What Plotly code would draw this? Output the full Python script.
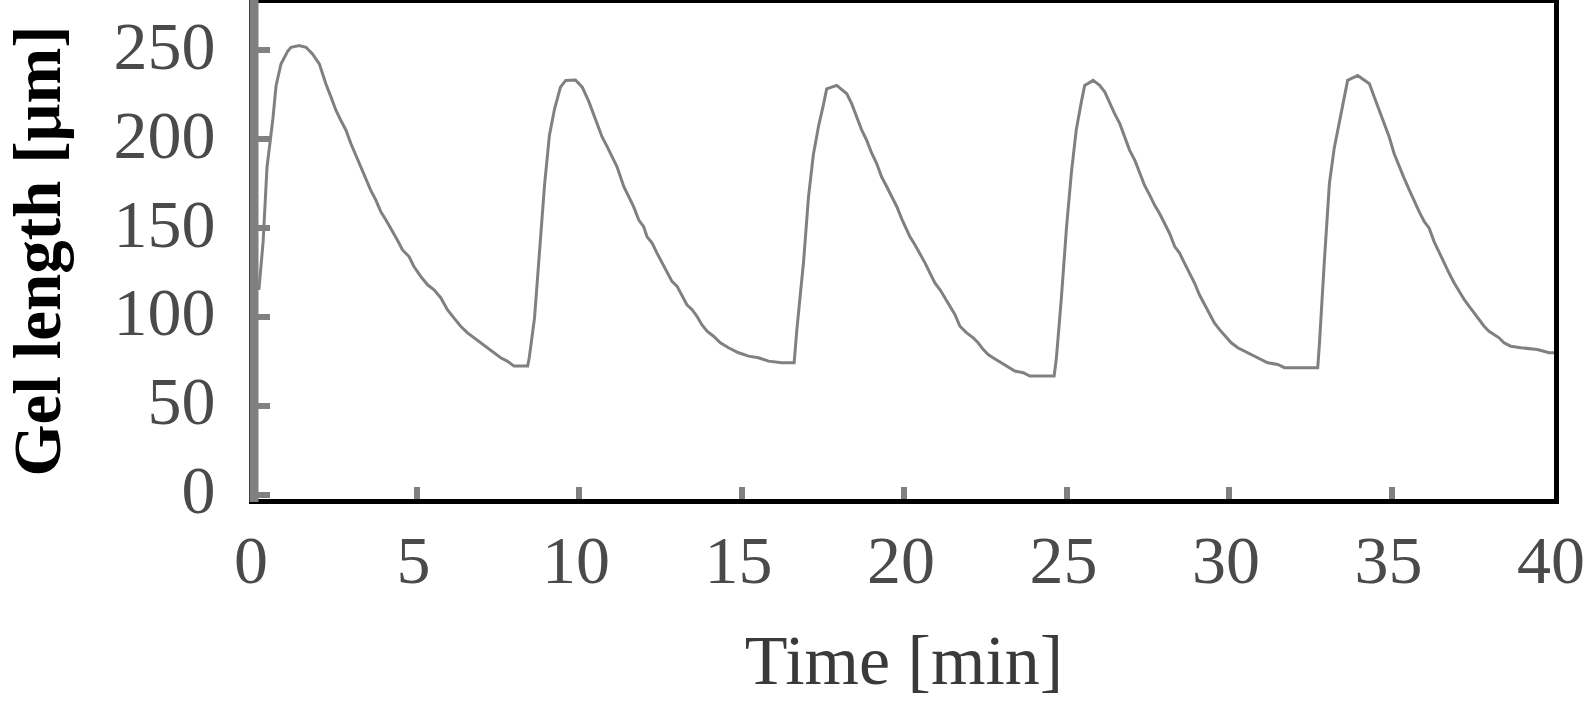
import plotly.graph_objects as go

# Time [min]
time_min = [
    0.15, 0.28, 0.40, 0.58, 0.68, 0.83, 1.03, 1.14, 1.39, 1.60, 1.80, 2.01, 2.11, 2.21, 2.37, 2.52,
    2.67, 2.83, 2.98, 3.13, 3.29, 3.44, 3.59, 3.75, 3.90, 4.06, 4.21, 4.41, 4.57, 4.77, 4.92, 5.13,
    5.34, 5.54, 5.75, 5.95, 6.15, 6.36, 6.57, 6.77, 6.97, 7.18, 7.38, 7.59, 7.79, 8.00, 8.42,
    8.47, 8.63, 8.79, 8.94, 9.09, 9.25, 9.43, 9.59, 9.89,
    10.10, 10.30, 10.50, 10.71, 10.87, 11.02, 11.17, 11.38, 11.53, 11.68, 11.84, 11.99, 12.09, 12.25,
    12.40, 12.56, 12.71, 12.86, 13.02, 13.17, 13.32, 13.48, 13.63, 13.78, 13.94, 14.14, 14.35, 14.60,
    14.91, 15.22, 15.52, 15.83, 16.24, 16.62,
    16.70, 16.91, 17.06, 17.21, 17.37, 17.52, 17.62, 17.93,
    18.24, 18.39, 18.55, 18.70, 18.85, 19.01, 19.16, 19.31, 19.47, 19.62, 19.78, 19.93, 20.03, 20.18,
    20.34, 20.49, 20.65, 20.80, 20.95, 21.11, 21.26, 21.41, 21.57, 21.72, 21.93, 22.13, 22.28, 22.44,
    22.59, 22.74, 22.90, 23.15, 23.41, 23.67, 23.87, 24.62,
    24.69, 24.84, 25.00, 25.15, 25.30, 25.46, 25.56, 25.82,
    26.02, 26.18, 26.33, 26.48, 26.64, 26.79, 26.94, 27.10, 27.25, 27.40, 27.56, 27.71, 27.86, 28.02,
    28.17, 28.33, 28.48, 28.63, 28.79, 28.94, 29.09, 29.25, 29.40, 29.55, 29.71, 29.86, 30.07, 30.27,
    30.58, 30.89, 31.19, 31.50, 31.71, 32.73,
    32.78, 32.93, 33.09, 33.24, 33.40, 33.55, 33.65, 33.96,
    34.32, 34.47, 34.62, 34.78, 34.93, 35.08, 35.24, 35.39, 35.55, 35.70, 35.85, 36.01, 36.16, 36.31,
    36.47, 36.62, 36.77, 36.93, 37.08, 37.24, 37.39, 37.54, 37.70, 37.85, 38.00, 38.16, 38.31, 38.46,
    38.67, 38.98, 39.49, 39.85, 40.00,
]

# Gel length [um]
gel_length = [
    115.0, 142.0, 184.0, 211.0, 230.0, 242.0, 249.0, 251.4, 252.4, 251.4, 247.7, 242.1, 236.5, 230.9, 223.4, 216.0,
    210.4, 204.8, 197.3, 190.8, 184.2, 176.8, 171.1, 165.5, 159.0, 154.3, 149.7, 143.1, 137.5, 133.8, 128.2, 122.6,
    117.9, 115.1, 110.5, 103.9, 99.3, 94.6, 90.9, 88.1, 85.3, 82.5, 79.7, 76.9, 75.0, 72.2, 72.2,
    77.0, 99.0, 136.0, 174.0, 202.0, 217.0, 229.0, 232.8, 233.0,
    229.0, 221.0, 211.0, 201.0, 195.4, 189.8, 184.2, 173.0, 167.4, 161.8, 154.3, 150.6, 145.0, 141.3,
    135.7, 130.1, 124.5, 119.8, 117.0, 111.4, 106.7, 103.9, 100.2, 95.5, 91.8, 89.0, 85.3, 82.5,
    79.7, 77.8, 76.9, 75.0, 74.1, 74.1,
    92.0, 131.0, 167.0, 191.0, 207.0, 219.0, 228.0, 230.0,
    225.3, 219.7, 212.2, 204.8, 199.2, 191.7, 186.1, 178.6, 173.0, 167.4, 161.8, 155.0, 150.6, 145.0,
    140.3, 135.7, 130.1, 124.5, 118.9, 115.1, 110.5, 105.8, 101.1, 94.6, 90.9, 88.1, 85.3, 81.5,
    78.7, 76.9, 75.0, 72.2, 69.4, 68.5, 66.6, 66.6,
    77.0, 110.0, 150.0, 181.0, 205.0, 221.0, 230.0, 232.8,
    230.0, 226.2, 219.7, 214.1, 208.5, 201.0, 193.6, 188.0, 181.4, 173.9, 168.3, 162.7, 158.1, 152.5,
    146.9, 139.4, 135.7, 130.1, 124.5, 118.9, 112.3, 106.7, 102.1, 96.5, 92.7, 89.5, 85.3, 82.5,
    79.7, 76.9, 74.1, 73.1, 71.3, 71.3,
    84.0, 130.0, 175.0, 195.0, 210.0, 222.0, 232.8, 235.6,
    230.9, 223.4, 216.0, 208.5, 201.0, 191.7, 184.2, 177.7, 171.1, 164.6, 159.0, 153.4, 149.7, 142.2,
    135.7, 130.1, 124.5, 118.9, 114.2, 109.5, 105.8, 102.1, 98.3, 94.6, 91.8, 89.9, 88.1, 85.3,
    83.4, 82.5, 81.5, 79.7, 79.7,
]

x_ticks = [0, 5, 10, 15, 20, 25, 30, 35, 40]
x_tick_labels = ["0", "5", "10", "15", "20", "25", "30", "35", "40"]
y_ticks = [0, 50, 100, 150, 200, 250]
y_tick_labels = ["0", "50", "100", "150", "200", "250"]

fig = go.Figure()
fig.add_trace(go.Scatter(
    x=time_min, y=gel_length, mode="lines",
    line=dict(color="#808080", width=3),
    showlegend=False, hoverinfo="x+y",
))

fig.update_layout(
    width=1586, height=707,
    margin=dict(l=254, r=32, t=2.5, b=207.5, autoexpand=False),
    paper_bgcolor="white", plot_bgcolor="white",
    xaxis=dict(
        range=[0, 40], tickvals=x_ticks, ticktext=x_tick_labels,
        showgrid=False, zeroline=False, automargin=False,
        showline=True, linecolor="black", linewidth=5, mirror=True,
        ticks="inside", ticklen=12, tickwidth=6, tickcolor="#808080",
        tickfont=dict(family="Liberation Serif", size=68, color="#4a4a4a"),
        ticklabelstandoff=-3, ticklabelshift=-3, ticklabeloverflow="allow",
        title=dict(text="Time [min]", font=dict(family="Liberation Serif", size=70, color="#3a3a3a"), standoff=40),
    ),
    yaxis=dict(
        range=[-2.5, 276.3], tickvals=y_ticks, ticktext=y_tick_labels,
        showgrid=False, zeroline=False, automargin=False,
        showline=True, linecolor="black", linewidth=5, mirror=True,
        ticks="inside", ticklen=16, tickwidth=6, tickcolor="#808080",
        tickfont=dict(family="Liberation Serif", size=68, color="#4a4a4a"),
        ticklabelstandoff=20, ticklabelshift=-5, ticklabeloverflow="allow",
        title=dict(text="<b>Gel length [μm]</b>", font=dict(family="Liberation Serif", size=67, color="black"), standoff=67),
    ),
    shapes=[dict(type="line", xref="paper", yref="paper", x0=0, x1=0, y0=-0.006, y1=1.006,
                 line=dict(color="#808080", width=9), layer="above")],
)

fig.write_html("out.html", config={"displayModeBar": False},
               post_script="document.body.style.margin='0px';")
